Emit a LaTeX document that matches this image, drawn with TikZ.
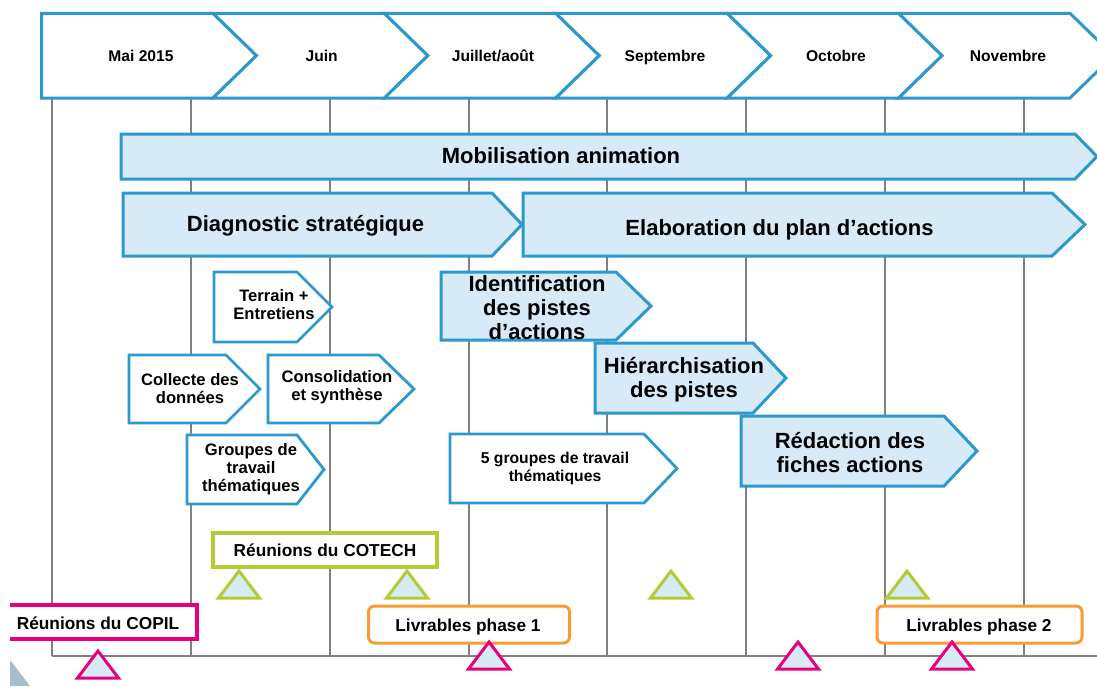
\documentclass[tikz,border=0pt]{standalone}
\usepackage{fontspec}
\setmainfont{Liberation Sans}
\definecolor{cblue}{RGB}{44,153,206}
\definecolor{clight}{RGB}{214,235,247}
\definecolor{cgray}{RGB}{128,128,128}
\definecolor{clime}{RGB}{178,204,51}
\definecolor{cpink}{RGB}{230,0,126}
\definecolor{corange}{RGB}{247,155,51}
\definecolor{carc}{RGB}{168,189,204}
\newcommand\abox[6]{\draw[#1] (#2,#3) -- (#4,#3) -- (#5,{(#3+#6)/2}) -- (#4,#6) -- (#2,#6) -- cycle;}
\newcommand\chev[2]{\draw[hdrbox] (#1,13.3) -- (#2,13.3) -- ({#2+43.5},55.6) -- (#2,98) -- (#1,98) -- ({#1+43.5},55.6) -- cycle;}
\newcommand\tri[3]{\draw[#1] (#2,#3) -- ({#2-20.5},{#3+27}) -- ({#2+20.5},{#3+27}) -- cycle;}
\begin{document}
\begin{tikzpicture}[x=1pt,y=-1pt,line join=miter,
  hdrbox/.style={draw=cblue,line width=3pt,fill=white},
  bluebox/.style={draw=cblue,line width=3pt,fill=clight},
  whitebox/.style={draw=cblue,line width=2.8pt,fill=white},
  gridline/.style={draw=cgray,line width=2pt},
  hdrtxt/.style={font=\fontsize{15.6}{18}\selectfont\bfseries,anchor=base,inner sep=0pt},
  bigtxt/.style={font=\fontsize{22}{24}\selectfont\bfseries,align=center,inner sep=0pt},
  smalltxt/.style={font=\fontsize{16.6}{18}\selectfont\bfseries,align=center,inner sep=0pt},
  grptxt/.style={font=\fontsize{15.7}{18}\selectfont\bfseries,align=center,inner sep=0pt},
  labtxt/.style={font=\fontsize{17.3}{20}\selectfont\bfseries,anchor=base,inner sep=0pt},
  limetri/.style={draw=clime,line width=3pt,fill=clight},
  pinktri/.style={draw=cpink,line width=3pt,fill=clight}]
\useasboundingbox (0,0) rectangle (1097,686);
\clip (0,0) rectangle (1097,686);
\fill[white] (0,0) rectangle (1097,686);
% decorative arc
\fill[carc] (10,660) .. controls (17,669) and (24,678) .. (30,686) -- (10,686) -- cycle;
% grid
\foreach \gx in {51.7,190.7,329.6,468.5,607.4,746.3,885.2,1024.1}
  \draw[gridline] (\gx,98) -- (\gx,656);
\draw[gridline] (51.7,656) -- (1097,656);
% header
\draw[hdrbox] (41.7,13.3) -- (213,13.3) -- (256.5,55.6) -- (213,98) -- (41.7,98) -- cycle;
\chev{213}{384.4}
\chev{384.4}{555.8}
\chev{555.8}{727.2}
\chev{727.2}{898.6}
\chev{898.6}{1070}
\node[hdrtxt] (m1) at (141,61) {Mai 2015};
\node[hdrtxt] (m2) at (321.7,61) {Juin};
\node[hdrtxt] (m3) at (493,61) {Juillet/août};
\node[hdrtxt] (m4) at (665,61) {Septembre};
\node[hdrtxt] (m5) at (836,61) {Octobre};
\node[hdrtxt] (m6) at (1008,61) {Novembre};
% phases
\abox{bluebox}{121}{134}{1075}{1097}{179}
\node[bigtxt,anchor=base] (mob) at (561,163.5) {Mobilisation animation};
\abox{bluebox}{123}{193}{492}{522}{256}
\node[bigtxt,anchor=base] (diag) at (305.5,231) {Diagnostic stratégique};
\abox{bluebox}{523}{193}{1052}{1085}{256}
\node[bigtxt,anchor=base] (elab) at (779.5,235) {Elaboration du plan d’actions};
% diagnostic tasks
\abox{whitebox}{214}{272}{297}{332}{342}
\node[smalltxt] (terr) at (274,305) {Terrain +\\Entretiens};
\abox{whitebox}{129}{355}{226}{260}{423}
\node[smalltxt] (coll) at (190,389) {Collecte des\\données};
\abox{whitebox}{268}{355}{379}{414}{423}
\node[smalltxt] (cons) at (337,387) {Consolidation\\et synthèse};
\abox{whitebox}{187}{435}{297}{324}{504}
\node[smalltxt] (grp) at (251,469) {Groupes de\\travail\\thématiques};
% plan d'actions tasks
\abox{bluebox}{441}{272}{616}{651}{340}
\node[bigtxt] (ident) at (537,308) {Identification\\des pistes\\d’actions};
\abox{bluebox}{595}{343}{753}{786}{413}
\node[bigtxt] (hier) at (684,380) {Hiérarchisation\\des pistes};
\abox{bluebox}{741}{416}{944}{977}{486}
\node[bigtxt] (red) at (850,453) {Rédaction des\\fiches actions};
\abox{whitebox}{450}{434}{644}{677}{503}
\node[grptxt] (g5) at (555,468) {5 groupes de travail\\thématiques};
% legends
\draw[draw=clime,line width=3.5pt,fill=white] (213,533) rectangle (437,567);
\node[labtxt] (cotech) at (325,556) {Réunions du COTECH};
\fill[white] (10,605) rectangle (197,639);
\draw[draw=cpink,line width=4pt] (10,605) -- (197,605) -- (197,639) -- (10,639);
\node[labtxt] (copil) at (98,629) {Réunions du COPIL};
\draw[draw=corange,line width=3pt,fill=white,rounded corners=6pt] (368.5,606) rectangle (569.5,643);
\node[labtxt] (liv1) at (468,631) {Livrables phase 1};
\draw[draw=corange,line width=3pt,fill=white,rounded corners=6pt] (877,606) rectangle (1082,643);
\node[labtxt] (liv2) at (979,631) {Livrables phase 2};
% milestones
\tri{limetri}{239}{571}
\tri{limetri}{407}{571}
\tri{limetri}{671}{571}
\tri{limetri}{907}{571}
\tri{pinktri}{98}{651}
\tri{pinktri}{489}{642}
\tri{pinktri}{798}{642}
\tri{pinktri}{952}{642}
\end{tikzpicture}
\end{document}
